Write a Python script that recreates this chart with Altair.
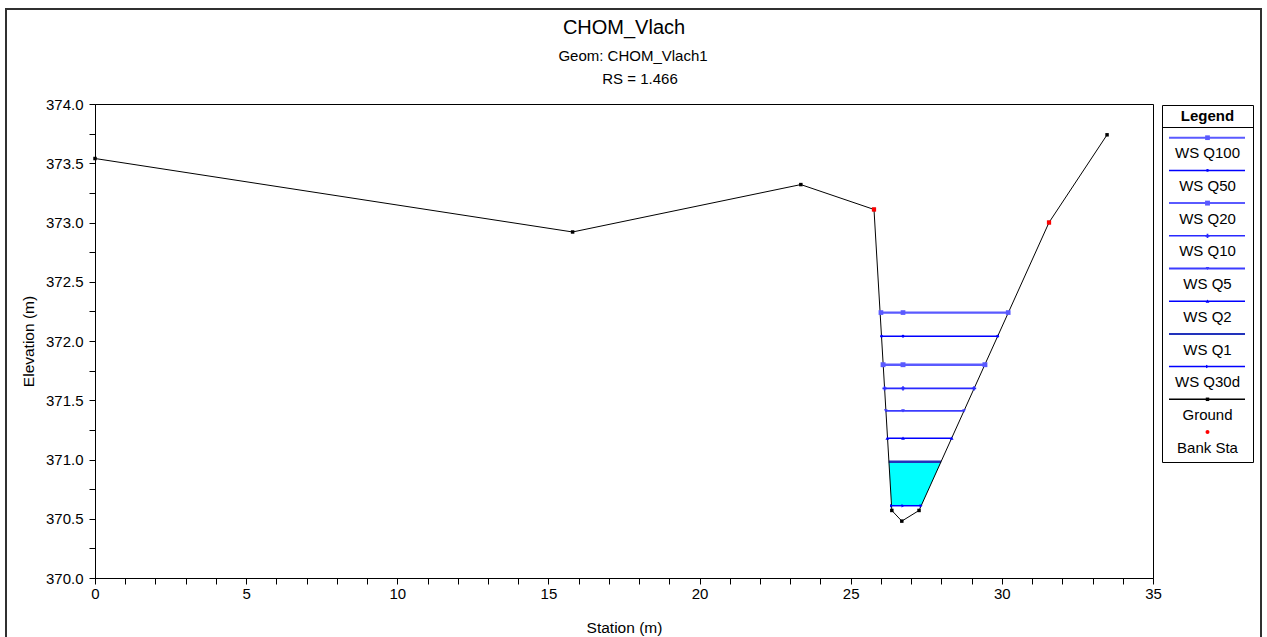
import altair as alt
import pandas as pd

# ---------------- data ----------------
ground_station = [0.00, 15.80, 23.35, 25.77, 26.36, 26.69, 27.26, 31.56, 33.48]
ground_elev = [373.54, 372.92, 373.32, 373.11, 370.57, 370.48, 370.57, 373.00, 373.74]

bank_station = [25.77, 31.56]
bank_elev = [373.11, 373.00]

profiles = ["WS Q100", "WS Q50", "WS Q20", "WS Q10", "WS Q5", "WS Q2", "WS Q1", "WS Q30d"]
ws_elev = [372.24, 372.04, 371.80, 371.60, 371.41, 371.18, 370.98, 370.61]
ws_left = [26.00, 26.02, 26.07, 26.12, 26.16, 26.21, 26.26, 26.35]
ws_right = [30.21, 29.86, 29.44, 29.08, 28.75, 28.34, 27.99, 27.33]
ws_mid = 26.73

fill_elev = [370.61, 370.98]
fill_left = [26.35, 26.26]
fill_right = [27.33, 27.99]

title_lines = ["CHOM_Vlach", "Geom: CHOM_Vlach1", "RS = 1.466"]

# ---------------- styles ----------------
FONT = "Liberation Sans"
ws_colors = ["#5a5aff", "#0000ff", "#5a5aff", "#2a2aff", "#3c3cff", "#0000ff", "#2233bb", "#0000ff"]
ws_widths = [2.2, 1.5, 2.4, 1.6, 1.8, 1.5, 2.5, 1.5]
ws_shapes = ["square", "circle", "square", "cross", "triangle-down", "triangle-up", None, "triangle-right"]
ws_sizes = [22, 8, 24, 18, 14, 14, 0, 12]

rows = []
for i, p in enumerate(profiles):
    for st in (ws_left[i], ws_mid, ws_right[i]):
        rows.append({"profile": p, "station": st, "elev": ws_elev[i],
                     "color": ws_colors[i], "width": ws_widths[i],
                     "shape": ws_shapes[i] or "circle", "size": ws_sizes[i]})
ws_df = pd.DataFrame(rows)
ground_df = pd.DataFrame({"station": ground_station, "elev": ground_elev})
bank_df = pd.DataFrame({"station": bank_station, "elev": bank_elev})
fill_df = pd.DataFrame({"elev": fill_elev, "left": fill_left, "right": fill_right})

xscale = alt.Scale(domain=[0, 35], nice=False, zero=False)
yscale = alt.Scale(domain=[370, 374], nice=False, zero=False)
axis_common = dict(grid=False, domainColor="black", tickColor="black", labelColor="black",
                   titleColor="black", labelFont=FONT, titleFont=FONT, labelFontSize=15,
                   titleFontSize=15.5, titleFontWeight="normal", tickSize=6,
                   labelOverlap=False, labelFlush=False)
xaxis = alt.Axis(title="Station (m)", values=list(range(36)),
                 labelExpr="datum.value % 5 == 0 ? format(datum.value, 'd') : ''",
                 labelPadding=2, titleY=49, titleBaseline="middle", **axis_common)
yaxis = alt.Axis(title="Elevation (m)", values=[370 + 0.25 * k for k in range(17)],
                 labelExpr="datum.value % 0.5 == 0 ? format(datum.value, '.1f') : ''",
                 labelPadding=6, titleX=-67, titleBaseline="middle", **axis_common)


def X(f):
    return alt.X(f"{f}:Q", scale=xscale, axis=xaxis)


def Y(f):
    return alt.Y(f"{f}:Q", scale=yscale, axis=yaxis)


one = pd.DataFrame({"k": [0]})

layers = []
# outer frame
layers.append(alt.Chart(one).mark_rect(fill=None, stroke="#303030", strokeWidth=2).encode(
    x=alt.value(-89), x2=alt.value(1166), y=alt.value(-95), y2=alt.value(534)))

# titles
title_x = [529, 538, 545]
title_y = [-76, -48, -25]
title_size = [20, 15, 15]
for t, tx, ty, ts in zip(title_lines, title_x, title_y, title_size):
    layers.append(alt.Chart(one).mark_text(text=t, font=FONT, fontSize=ts, color="black",
                                           align="center", baseline="middle").encode(
        x=alt.value(tx), y=alt.value(ty)))

# water fill
layers.append(alt.Chart(fill_df).mark_area(orient="horizontal", color="#00ffff", opacity=1).encode(
    y=Y("elev"), x=X("left"), x2=alt.X2("right")))

# water surface lines
layers.append(alt.Chart(ws_df).mark_line().encode(
    x=X("station"), y=Y("elev"), detail="profile:N",
    color=alt.Color("color:N", scale=None),
    strokeWidth=alt.StrokeWidth("width:Q", scale=None)))

# ground
layers.append(alt.Chart(ground_df).mark_line(color="black", strokeWidth=1).encode(
    x=X("station"), y=Y("elev")))
layers.append(alt.Chart(ground_df).mark_point(shape="square", filled=True, color="black",
                                              size=12, opacity=1).encode(
    x=X("station"), y=Y("elev")))

# WS markers
layers.append(alt.Chart(ws_df[ws_df["size"] > 0]).mark_point(filled=True, opacity=1).encode(
    x=X("station"), y=Y("elev"),
    shape=alt.Shape("shape:N", scale=None),
    size=alt.Size("size:Q", scale=None),
    color=alt.Color("color:N", scale=None)))

# bank stations
layers.append(alt.Chart(bank_df).mark_point(shape="square", filled=True, color="#ff0000",
                                            size=18, opacity=1).encode(
    x=X("station"), y=Y("elev")))

# plot frame (crisp, aligned with the axis domain lines)
layers.append(alt.Chart(one).mark_rect(fill=None, stroke="black", strokeWidth=1).encode(
    x=alt.value(0.5), x2=alt.value(1058.5), y=alt.value(0.5), y2=alt.value(474.5)))

# ---------------- legend box ----------------
LX0, LX1 = 1067, 1158
LC = (LX0 + LX1) / 2
LFS = 15
layers.append(alt.Chart(one).mark_rect(fill="white", stroke="black", strokeWidth=1).encode(
    x=alt.value(LX0 + 0.5), x2=alt.value(LX1 + 0.5), y=alt.value(1.5), y2=alt.value(358.5)))
layers.append(alt.Chart(one).mark_rule(color="black", strokeWidth=1).encode(
    x=alt.value(LX0), x2=alt.value(LX1), y=alt.value(23.5)))
layers.append(alt.Chart(one).mark_text(text="Legend", font=FONT, fontSize=LFS, fontWeight="bold",
                                       color="black", baseline="middle", align="center").encode(
    x=alt.value(LC), y=alt.value(12)))

legend_names = profiles + ["Ground"]
legend_colors = ws_colors + ["black"]
legend_widths = ws_widths[:] + [1.5]
legend_shapes = ws_shapes + ["square"]
legend_sizes = ws_sizes + [12]
for i, name in enumerate(legend_names):
    ly = 33.7 + 32.7 * i
    layers.append(alt.Chart(one).mark_rule(color=legend_colors[i], strokeWidth=min(legend_widths[i], 2)).encode(
        x=alt.value(LX0 + 7), x2=alt.value(LX1 - 8), y=alt.value(ly)))
    if legend_shapes[i]:
        layers.append(alt.Chart(one).mark_point(shape=legend_shapes[i], filled=True, opacity=1,
                                                color=legend_colors[i], size=legend_sizes[i]).encode(
            x=alt.value(LC), y=alt.value(ly)))
    layers.append(alt.Chart(one).mark_text(text=name, font=FONT, fontSize=LFS, color="black",
                                           baseline="middle", align="center").encode(
        x=alt.value(LC), y=alt.value(ly + 15.6)))
ly = 33.7 + 32.7 * 9
layers.append(alt.Chart(one).mark_point(shape="circle", filled=True, opacity=1,
                                        color="#ff0000", size=16).encode(
    x=alt.value(LC), y=alt.value(ly)))
layers.append(alt.Chart(one).mark_text(text="Bank Sta", font=FONT, fontSize=LFS, color="black",
                                       baseline="middle", align="center").encode(
    x=alt.value(LC), y=alt.value(ly + 15.6)))

chart = alt.layer(*layers).properties(
    width=1058, height=474,
    autosize=alt.AutoSizeParams(type="none"),
    padding={"left": 95, "top": 104, "right": 114, "bottom": 59},
).configure_view(stroke=None).configure(background="white")

chart.save("out.html", embed_options={"renderer": "svg", "actions": False})
